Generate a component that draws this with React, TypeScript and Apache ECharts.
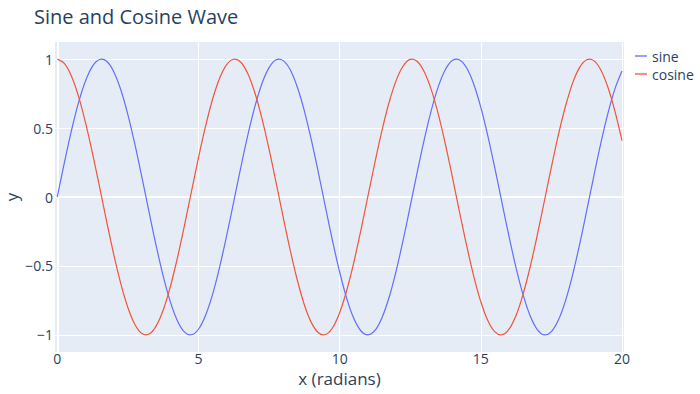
import React, { useEffect, useRef } from "react";
import * as echarts from "echarts";

const xValues = [
  0, 0.25, 0.5, 0.75, 1, 1.25, 1.5, 1.75, 2, 2.25, 2.5, 2.75, 3, 3.25, 3.5, 3.75,
  4, 4.25, 4.5, 4.75, 5, 5.25, 5.5, 5.75, 6, 6.25, 6.5, 6.75, 7, 7.25, 7.5, 7.75,
  8, 8.25, 8.5, 8.75, 9, 9.25, 9.5, 9.75, 10, 10.25, 10.5, 10.75, 11, 11.25, 11.5, 11.75,
  12, 12.25, 12.5, 12.75, 13, 13.25, 13.5, 13.75, 14, 14.25, 14.5, 14.75, 15, 15.25, 15.5, 15.75,
  16, 16.25, 16.5, 16.75, 17, 17.25, 17.5, 17.75, 18, 18.25, 18.5, 18.75, 19, 19.25, 19.5, 19.75, 20,
];

const sineValues = [
  0, 0.247, 0.479, 0.682, 0.841, 0.949, 0.997, 0.984, 0.909, 0.778, 0.598, 0.382, 0.141, -0.108, -0.351, -0.572,
  -0.757, -0.895, -0.978, -0.999, -0.959, -0.859, -0.706, -0.508, -0.279, -0.033, 0.215, 0.45, 0.657, 0.823, 0.938, 0.995,
  0.989, 0.923, 0.798, 0.625, 0.412, 0.174, -0.075, -0.32, -0.544, -0.735, -0.88, -0.97, -1.0, -0.968, -0.875, -0.729,
  -0.537, -0.311, -0.066, 0.183, 0.42, 0.632, 0.804, 0.926, 0.991, 0.994, 0.935, 0.818, 0.65, 0.442, 0.206, -0.042,
  -0.288, -0.516, -0.712, -0.863, -0.961, -1.0, -0.976, -0.891, -0.751, -0.564, -0.342, -0.099, 0.15, 0.39, 0.606, 0.784, 0.913,
];

const cosineValues = [
  1, 0.969, 0.878, 0.732, 0.54, 0.315, 0.071, -0.178, -0.416, -0.628, -0.801, -0.924, -0.99, -0.994, -0.936, -0.821,
  -0.654, -0.446, -0.211, 0.038, 0.284, 0.512, 0.709, 0.861, 0.96, 0.999, 0.977, 0.893, 0.754, 0.568, 0.347, 0.104,
  -0.146, -0.386, -0.602, -0.781, -0.911, -0.985, -0.997, -0.948, -0.839, -0.678, -0.476, -0.243, 0.004, 0.252, 0.483, 0.685,
  0.844, 0.95, 0.998, 0.983, 0.907, 0.775, 0.595, 0.378, 0.137, -0.113, -0.355, -0.575, -0.76, -0.897, -0.978, -0.999,
  -0.958, -0.857, -0.702, -0.504, -0.275, -0.029, 0.219, 0.454, 0.66, 0.826, 0.94, 0.995, 0.989, 0.921, 0.796, 0.621, 0.408,
];

const xTicks = [0, 5, 10, 15, 20];
const yTicks = [-1, -0.5, 0, 0.5, 1];
const seriesNames = ["sine", "cosine"];
const seriesColors = ["#636efa", "#EF553B"];

const FONT = '"Open Sans", "Noto Sans", sans-serif';
const TEXT = "#2a3f5f";

function curveSeries(name: string, color: string, ys: number[]) {
  const data = xValues.map((x, i) => [x, ys[i]]);
  return {
    name,
    type: "custom",
    coordinateSystem: "cartesian2d",
    encode: { x: 0, y: 1 },
    data,
    itemStyle: { color },
    silent: true,
    renderItem: (params: any, api: any) => {
      if (params.dataIndex !== 0) return null;
      const points = data.map((d) => api.coord(d));
      return {
        type: "polyline",
        shape: { points, smooth: 0.35 },
        style: { stroke: color, lineWidth: 1.2, fill: "none" },
        silent: true,
      };
    },
  };
}

export default function App() {
  const ref = useRef<HTMLDivElement>(null);

  useEffect(() => {
    if (!ref.current) return;
    const chart = echarts.init(ref.current, null, { renderer: "svg" });
    const fmt = (v: number) => (v < 0 ? "\u2212" + Math.abs(v) : String(v));
    chart.setOption({
      animation: false,
      backgroundColor: "#ffffff",
      textStyle: { fontFamily: FONT, color: TEXT },
      title: {
        text: "Sine and Cosine Wave",
        left: 34,
        top: 6,
        padding: 0,
        textStyle: { fontFamily: FONT, fontSize: 20, fontWeight: "normal", color: TEXT },
      },
      legend: {
        orient: "vertical",
        left: 635,
        top: 49,
        padding: 0,
        itemGap: 4,
        itemWidth: 12,
        itemHeight: 1.3,
        icon: "rect",
        data: seriesNames,
        textStyle: { fontFamily: FONT, fontSize: 14, color: TEXT },
      },
      grid: {
        left: 55,
        right: 76,
        top: 42,
        bottom: 42,
        show: true,
        backgroundColor: "#E5ECF6",
        borderWidth: 0,
      },
      xAxis: {
        type: "value",
        min: -0.08,
        max: 20.07,
        axisLine: { show: false },
        axisTick: { show: false, customValues: xTicks },
        axisLabel: {
          customValues: xTicks,
          margin: -1,
          fontFamily: FONT,
          fontSize: 14,
          color: TEXT,
          formatter: fmt,
        },
        splitLine: { show: true, lineStyle: { color: "#ffffff", width: 1 } },
      },
      yAxis: {
        type: "value",
        min: -1.124,
        max: 1.124,
        axisLine: { show: false },
        axisTick: { show: false, customValues: yTicks },
        axisLabel: {
          customValues: yTicks,
          margin: 2,
          fontFamily: FONT,
          fontSize: 14,
          color: TEXT,
          formatter: fmt,
        },
        splitLine: { show: true, lineStyle: { color: "#ffffff", width: 1 } },
      },
      graphic: [
        {
          type: "text",
          x: 339.5,
          y: 378.5,
          style: {
            text: "x (radians)",
            fontFamily: FONT,
            fontSize: 17,
            fill: TEXT,
            align: "center",
            verticalAlign: "middle",
          },
        },
        {
          type: "text",
          x: 11,
          y: 197,
          rotation: Math.PI / 2,
          style: {
            text: "y",
            fontFamily: FONT,
            fontSize: 17,
            fill: TEXT,
            align: "center",
            verticalAlign: "middle",
          },
        },
      ],
      series: [
        {
          name: "zero",
          type: "line",
          data: [],
          silent: true,
          markLine: {
            silent: true,
            symbol: "none",
            z: 1,
            label: { show: false },
            lineStyle: { color: "#ffffff", width: 2, type: "solid" },
            data: [{ yAxis: 0 }, { xAxis: 0 }],
          },
        },
        curveSeries(seriesNames[0], seriesColors[0], sineValues),
        curveSeries(seriesNames[1], seriesColors[1], cosineValues),
      ],
    });
    return () => chart.dispose();
  }, []);

  return (
    <div
      ref={ref}
      style={{ position: "fixed", left: 0, top: 0, width: 700, height: 394 }}
    />
  );
}
